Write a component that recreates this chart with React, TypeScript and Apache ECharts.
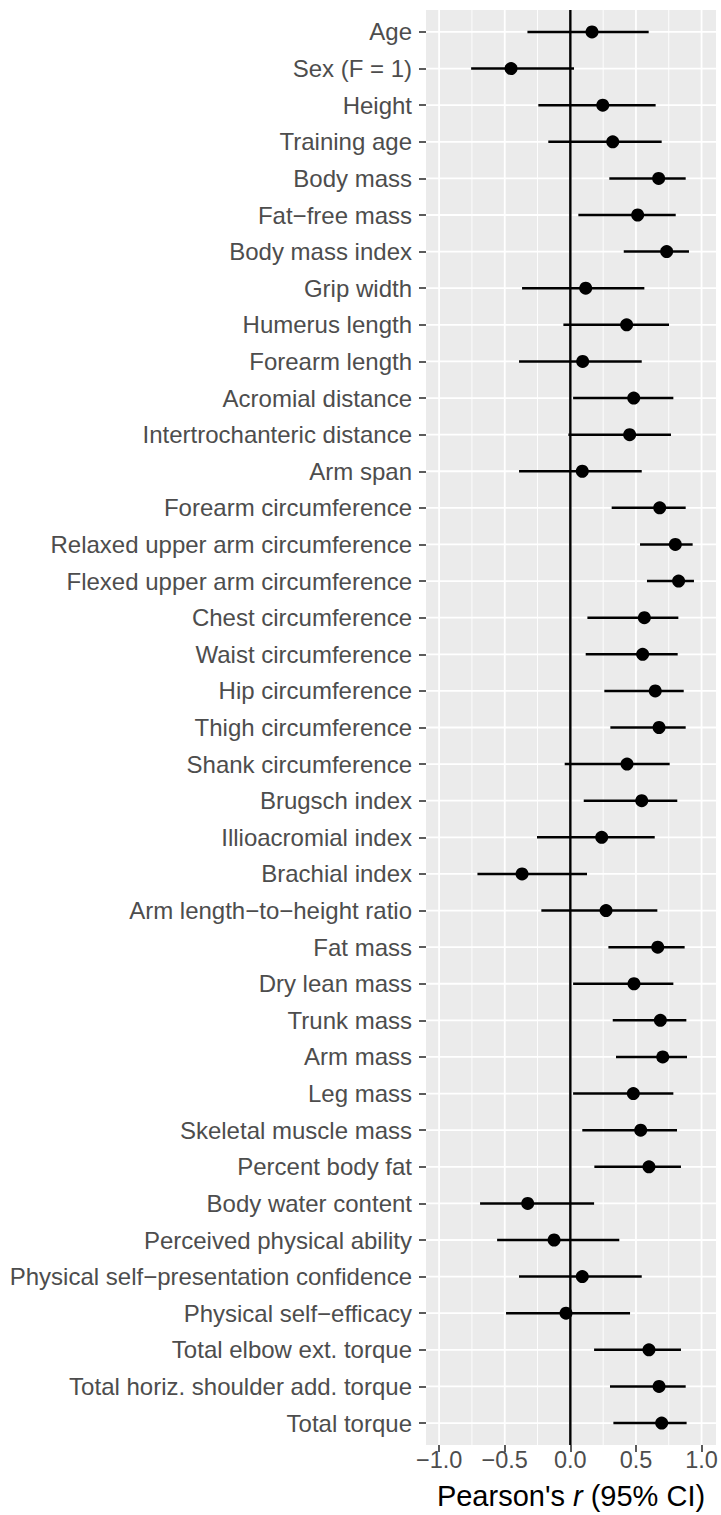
import React, { useEffect, useRef } from "react";
import * as echarts from "echarts";

const categories = [
  "Age",
  "Sex (F = 1)",
  "Height",
  "Training age",
  "Body mass",
  "Fat−free mass",
  "Body mass index",
  "Grip width",
  "Humerus length",
  "Forearm length",
  "Acromial distance",
  "Intertrochanteric distance",
  "Arm span",
  "Forearm circumference",
  "Relaxed upper arm circumference",
  "Flexed upper arm circumference",
  "Chest circumference",
  "Waist circumference",
  "Hip circumference",
  "Thigh circumference",
  "Shank circumference",
  "Brugsch index",
  "Illioacromial index",
  "Brachial index",
  "Arm length−to−height ratio",
  "Fat mass",
  "Dry lean mass",
  "Trunk mass",
  "Arm mass",
  "Leg mass",
  "Skeletal muscle mass",
  "Percent body fat",
  "Body water content",
  "Perceived physical ability",
  "Physical self−presentation confidence",
  "Physical self−efficacy",
  "Total elbow ext. torque",
  "Total horiz. shoulder add. torque",
  "Total torque",
];

const estimates = [
  0.165, -0.452, 0.247, 0.323, 0.673, 0.513, 0.734, 0.117, 0.429, 0.094,
  0.483, 0.452, 0.091, 0.681, 0.8, 0.825, 0.564, 0.551, 0.647, 0.676,
  0.432, 0.544, 0.239, -0.368, 0.272, 0.666, 0.485, 0.686, 0.704, 0.48,
  0.536, 0.599, -0.325, -0.124, 0.091, -0.033, 0.599, 0.676, 0.696,
];

const lowerCI = [
  -0.327, -0.756, -0.244, -0.168, 0.297, 0.061, 0.407, -0.368, -0.053, -0.391,
  0.021, -0.015, -0.391, 0.315, 0.531, 0.584, 0.13, 0.117, 0.259, 0.305,
  -0.043, 0.102, -0.254, -0.708, -0.221, 0.29, 0.021, 0.323, 0.348, 0.021,
  0.091, 0.183, -0.688, -0.558, -0.391, -0.49, 0.181, 0.302, 0.328,
];

const upperCI = [
  0.597, 0.028, 0.65, 0.696, 0.879, 0.803, 0.904, 0.564, 0.752, 0.544,
  0.785, 0.767, 0.544, 0.879, 0.932, 0.942, 0.823, 0.818, 0.864, 0.879,
  0.757, 0.815, 0.643, 0.127, 0.663, 0.871, 0.785, 0.884, 0.889, 0.785,
  0.813, 0.843, 0.181, 0.373, 0.544, 0.455, 0.843, 0.879, 0.886,
];

const xMajorTicks = [-1, -0.5, 0, 0.5, 1];
const xMinorTicks = [-0.75, -0.25, 0.25, 0.75];
const referenceLine = [0];

const FONT = "'Liberation Sans', Arial, Helvetica, sans-serif";

function vLineSeries(values: number[], color: string, width: number, z: number) {
  return {
    type: "custom",
    z,
    silent: true,
    data: values.map((v) => [v, 0]),
    encode: { x: 0, y: 1 },
    renderItem: (params: any, api: any) => {
      const x = api.coord([api.value(0), 0])[0];
      const cs = params.coordSys;
      return {
        type: "line",
        shape: { x1: x, y1: cs.y, x2: x, y2: cs.y + cs.height },
        style: { stroke: color, lineWidth: width, opacity: 1 },
      };
    },
  };
}

function hLineSeries(values: number[], color: string, width: number, z: number) {
  return {
    type: "custom",
    z,
    silent: true,
    data: values.map((v) => [0, v]),
    encode: { x: 0, y: 1 },
    renderItem: (params: any, api: any) => {
      const y = api.coord([0, api.value(1)])[1];
      const cs = params.coordSys;
      return {
        type: "line",
        shape: { x1: cs.x, y1: y, x2: cs.x + cs.width, y2: y },
        style: { stroke: color, lineWidth: width, opacity: 1 },
      };
    },
  };
}

export default function App() {
  const ref = useRef<HTMLDivElement>(null);

  useEffect(() => {
    document.body.style.margin = "0";
    const chart = echarts.init(ref.current!, null, { renderer: "svg" });
    const idx = categories.map((_, i) => i);

    chart.setOption({
      animation: false,
      textStyle: { fontFamily: FONT },
      grid: {
        left: 426,
        top: 10,
        width: 290,
        height: 1437,
        show: true,
        backgroundColor: "#EBEBEB",
        borderWidth: 0,
        z: 0,
      },
      xAxis: {
        type: "value",
        min: -1.1,
        max: 1.11,
        axisLine: { show: false, onZero: false },
        splitLine: { show: false },
        axisTick: {
          show: true,
          customValues: xMajorTicks,
          length: 7,
          lineStyle: { color: "#333333", width: 1.6 },
        },
        axisLabel: {
          customValues: xMajorTicks,
          formatter: (v: number) => v.toFixed(1).replace("-", "−"),
          color: "#4D4D4D",
          fontSize: 23.5,
          fontFamily: FONT,
          margin: 3,
        },
        name: "{a|Pearson's }{i|r}{a| (95% CI)}",
        nameLocation: "middle",
        nameGap: 36,
        nameTextStyle: {
          rich: {
            a: { fontSize: 29, color: "#000000", fontFamily: FONT },
            i: { fontSize: 29, color: "#000000", fontFamily: FONT, fontStyle: "italic" },
          },
        },
      },
      yAxis: {
        type: "value",
        inverse: true,
        min: -0.6,
        max: 38.6,
        axisLine: { show: false, onZero: false },
        splitLine: { show: false },
        axisTick: {
          show: true,
          customValues: idx,
          length: 7,
          lineStyle: { color: "#333333", width: 1.6 },
        },
        axisLabel: {
          customValues: idx,
          formatter: (v: number) => categories[Math.round(v)] ?? "",
          color: "#4D4D4D",
          fontSize: 24,
          fontFamily: FONT,
          margin: 14,
        },
      },
      series: [
        vLineSeries(xMinorTicks, "#FFFFFF", 0.9, 2),
        vLineSeries(xMajorTicks, "#FFFFFF", 1.8, 2),
        hLineSeries(idx, "#FFFFFF", 1.8, 2),
        vLineSeries(referenceLine, "#000000", 2.4, 3),
        {
          type: "custom",
          z: 4,
          silent: true,
          data: idx.map((i) => [i, lowerCI[i], upperCI[i]]),
          encode: { x: [1, 2], y: 0 },
          renderItem: (params: any, api: any) => {
            const y = api.value(0);
            const p1 = api.coord([api.value(1), y]);
            const p2 = api.coord([api.value(2), y]);
            return {
              type: "line",
              shape: { x1: p1[0], y1: p1[1], x2: p2[0], y2: p2[1] },
              style: { stroke: "#000000", lineWidth: 2.5 },
            };
          },
        },
        {
          type: "scatter",
          z: 5,
          silent: true,
          symbol: "circle",
          symbolSize: 13,
          itemStyle: { color: "#000000", opacity: 1 },
          data: idx.map((i) => [estimates[i], i]),
        },
      ],
    });

    return () => chart.dispose();
  }, []);

  return (
    <div
      ref={ref}
      style={{ position: "absolute", left: 0, top: 0, width: 721, height: 1515 }}
    />
  );
}
